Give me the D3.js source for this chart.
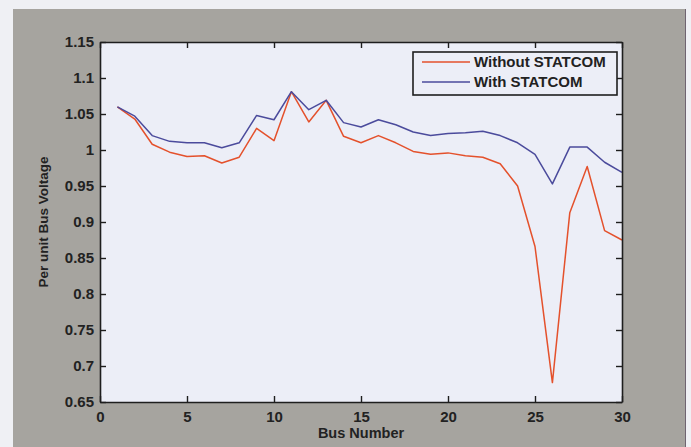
<!DOCTYPE html>
<html>
<head>
<meta charset="utf-8">
<script src="https://cdn.jsdelivr.net/npm/d3@7"></script>
<style>
  body { margin: 0; background: #eff0f4; }
  svg { display: block; font-family: "Liberation Sans", Arial, sans-serif; }
</style>
</head>
<body>
<div id="chart"></div>
<script>
// bus numbers 1..30
var buses = [1, 2, 3, 4, 5, 6, 7, 8, 9, 10, 11, 12, 13, 14, 15,
             16, 17, 18, 19, 20, 21, 22, 23, 24, 25, 26, 27, 28, 29, 30];

// per unit voltage
var withoutStatcom = [1.060, 1.043, 1.008, 0.997, 0.991, 0.992, 0.982, 0.990, 1.030, 1.013,
                      1.081, 1.039, 1.069, 1.019, 1.010, 1.020, 1.010, 0.998, 0.994, 0.996,
                      0.992, 0.990, 0.981, 0.950, 0.866, 0.677, 0.913, 0.977, 0.888, 0.875];
var withStatcom = [1.060, 1.047, 1.020, 1.012, 1.010, 1.010, 1.003, 1.010, 1.048, 1.042,
                   1.081, 1.056, 1.069, 1.038, 1.032, 1.042, 1.035, 1.025, 1.020, 1.023,
                   1.024, 1.026, 1.020, 1.010, 0.994, 0.953, 1.004, 1.004, 0.983, 0.969];

var xTicks = [0, 5, 10, 15, 20, 25, 30];
var yTicks = [0.65, 0.7, 0.75, 0.8, 0.85, 0.9, 0.95, 1, 1.05, 1.1, 1.15];
var seriesNames = ["Without STATCOM", "With STATCOM"];
var seriesColors = ["#e4512c", "#4b4b9c"];

var W = 691, H = 447;
var margin = { top: 42, right: 69, bottom: 45, left: 100 },
    width = W - margin.left - margin.right,
    height = H - margin.top - margin.bottom;

var svg = d3.select("#chart").append("svg")
    .attr("width", W)
    .attr("height", H);

// grey figure background
svg.append("rect")
    .attr("x", 13).attr("y", 9)
    .attr("width", 672).attr("height", H - 9)
    .attr("fill", "#a6a49f");
svg.append("line")
    .attr("x1", 685.5).attr("x2", 685.5)
    .attr("y1", 9).attr("y2", H)
    .attr("stroke", "#6f6470").attr("stroke-width", 1);

var g = svg.append("g")
    .attr("transform", "translate(" + margin.left + "," + margin.top + ")");

var x = d3.scaleLinear().domain([0, 30]).range([0, width]);
var y = d3.scaleLinear().domain([0.65, 1.15]).range([height, 0]);

// axes area
g.append("rect")
    .attr("width", width).attr("height", height)
    .attr("fill", "#eceef7");

// lines
var line = d3.line()
    .x(function (d, i) { return x(buses[i]); })
    .y(function (d) { return y(d); });

[withoutStatcom, withStatcom].forEach(function (vals, k) {
    g.append("path")
        .datum(vals)
        .attr("fill", "none")
        .attr("stroke", seriesColors[k])
        .attr("stroke-width", 1.5)
        .attr("stroke-linejoin", "round")
        .attr("d", line);
});

// box + inward ticks, MATLAB style
var tickLen = 6;
var bottomAxis = g.append("g")
    .attr("transform", "translate(0," + height + ")")
    .call(d3.axisBottom(x).tickValues(xTicks).tickSizeInner(-tickLen).tickSizeOuter(0).tickPadding(9));
var topAxis = g.append("g")
    .call(d3.axisTop(x).tickValues(xTicks).tickSizeInner(-tickLen).tickSizeOuter(0).tickFormat(""));
var leftAxis = g.append("g")
    .call(d3.axisLeft(y).tickValues(yTicks).tickSizeInner(-tickLen).tickSizeOuter(0).tickPadding(6)
        .tickFormat(function (d) { return d3.format("")(+d.toFixed(2)); }));
var rightAxis = g.append("g")
    .attr("transform", "translate(" + width + ",0)")
    .call(d3.axisRight(y).tickValues(yTicks).tickSizeInner(-tickLen).tickSizeOuter(0).tickFormat(""));

[bottomAxis, topAxis, leftAxis, rightAxis].forEach(function (a) {
    a.select(".domain").attr("stroke", "#1e1e1e").attr("stroke-width", 1.6);
    a.selectAll(".tick line").attr("stroke", "#1e1e1e").attr("stroke-width", 1.4);
    a.selectAll("text")
        .attr("fill", "#222")
        .style("font-size", "15px")
        .style("font-weight", "bold")
        .style("font-family", "'Liberation Sans', Arial, sans-serif");
});

// axis titles
g.append("text")
    .attr("x", width / 2)
    .attr("y", height + 36)
    .attr("text-anchor", "middle")
    .attr("fill", "#222")
    .style("font-size", "14.5px")
    .style("font-weight", "bold")
    .text("Bus Number");

g.append("text")
    .attr("transform", "translate(-52," + (height / 2) + ") rotate(-90)")
    .attr("text-anchor", "middle")
    .attr("fill", "#222")
    .style("font-size", "13.5px")
    .style("font-weight", "bold")
    .text("Per unit Bus Voltage");

// legend
var lx = 413 - margin.left, ly = 52 - margin.top;
var legend = g.append("g").attr("transform", "translate(" + lx + "," + ly + ")");
legend.append("rect")
    .attr("width", 204).attr("height", 43)
    .attr("fill", "#eceef7")
    .attr("stroke", "#1e1e1e").attr("stroke-width", 1.6);
seriesNames.forEach(function (name, i) {
    var yy = 10 + i * 20;
    legend.append("line")
        .attr("x1", 9).attr("x2", 57)
        .attr("y1", yy).attr("y2", yy)
        .attr("stroke", seriesColors[i]).attr("stroke-width", 1.5);
    legend.append("text")
        .attr("x", 61).attr("y", yy + 5)
        .attr("fill", "#222")
        .style("font-size", "15px")
        .style("font-weight", "bold")
        .text(name);
});
</script>
</body>
</html>
